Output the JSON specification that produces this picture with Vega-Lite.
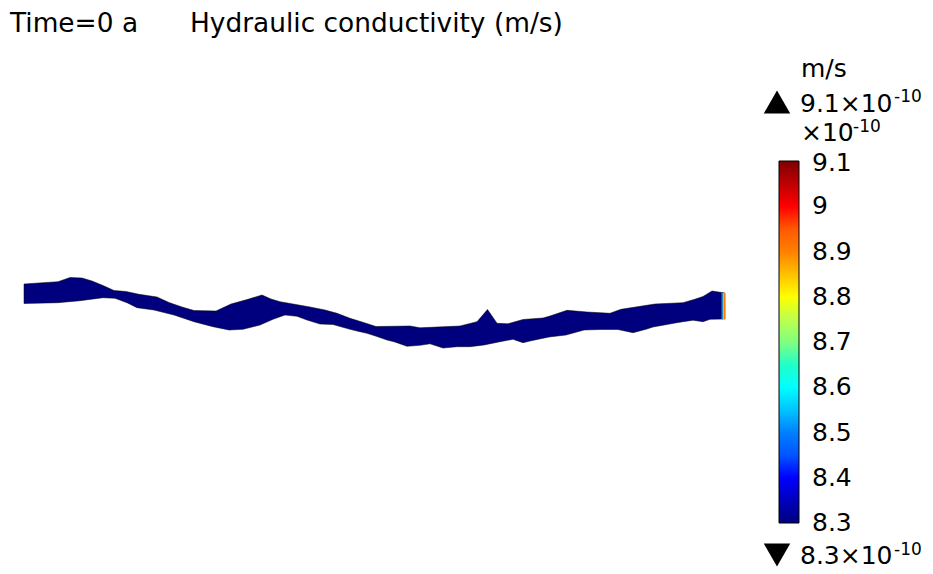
{
  "$schema": "https://vega.github.io/schema/vega-lite/v6.json",
  "width": 933,
  "height": 574,
  "autosize": {"type": "none"},
  "padding": 0,
  "background": "white",
  "config": {"view": {"stroke": null}, "font": "DejaVu Sans"},
  "datasets": {
    "outline": [
      {"i": 1, "x": 24, "y": 284, "k": 8.3},
      {"i": 2, "x": 58, "y": 281.7, "k": 8.3},
      {"i": 3, "x": 70, "y": 277.5, "k": 8.3},
      {"i": 4, "x": 82, "y": 278, "k": 8.3},
      {"i": 5, "x": 92, "y": 281, "k": 8.3},
      {"i": 6, "x": 103, "y": 285.5, "k": 8.3},
      {"i": 7, "x": 114, "y": 290.5, "k": 8.3},
      {"i": 8, "x": 126, "y": 291.5, "k": 8.3},
      {"i": 9, "x": 139, "y": 294.3, "k": 8.3},
      {"i": 10, "x": 157, "y": 297, "k": 8.3},
      {"i": 11, "x": 169, "y": 302.5, "k": 8.3},
      {"i": 12, "x": 182, "y": 307, "k": 8.3},
      {"i": 13, "x": 194, "y": 310.5, "k": 8.3},
      {"i": 14, "x": 216, "y": 311, "k": 8.3},
      {"i": 15, "x": 231, "y": 304, "k": 8.3},
      {"i": 16, "x": 248, "y": 299.3, "k": 8.3},
      {"i": 17, "x": 262, "y": 295, "k": 8.3},
      {"i": 18, "x": 271, "y": 299, "k": 8.3},
      {"i": 19, "x": 280, "y": 301.7, "k": 8.3},
      {"i": 20, "x": 293, "y": 304, "k": 8.3},
      {"i": 21, "x": 310, "y": 307, "k": 8.3},
      {"i": 22, "x": 325, "y": 310, "k": 8.3},
      {"i": 23, "x": 337, "y": 313.3, "k": 8.3},
      {"i": 24, "x": 350, "y": 318.3, "k": 8.3},
      {"i": 25, "x": 362, "y": 322, "k": 8.3},
      {"i": 26, "x": 376, "y": 326.5, "k": 8.3},
      {"i": 27, "x": 410, "y": 326, "k": 8.3},
      {"i": 28, "x": 420, "y": 327.8, "k": 8.3},
      {"i": 29, "x": 460, "y": 326, "k": 8.3},
      {"i": 30, "x": 477, "y": 321.7, "k": 8.3},
      {"i": 31, "x": 487.5, "y": 309.5, "k": 8.3},
      {"i": 32, "x": 497, "y": 323.3, "k": 8.3},
      {"i": 33, "x": 508, "y": 323.8, "k": 8.3},
      {"i": 34, "x": 523, "y": 319.5, "k": 8.3},
      {"i": 35, "x": 543, "y": 318, "k": 8.3},
      {"i": 36, "x": 550, "y": 316, "k": 8.3},
      {"i": 37, "x": 567, "y": 310.3, "k": 8.3},
      {"i": 38, "x": 587, "y": 312, "k": 8.3},
      {"i": 39, "x": 610, "y": 313.3, "k": 8.3},
      {"i": 40, "x": 621, "y": 309.3, "k": 8.3},
      {"i": 41, "x": 655, "y": 304, "k": 8.3},
      {"i": 42, "x": 683, "y": 302.7, "k": 8.3},
      {"i": 43, "x": 694, "y": 299.5, "k": 8.3},
      {"i": 44, "x": 703, "y": 296.5, "k": 8.3},
      {"i": 45, "x": 712, "y": 291, "k": 8.3},
      {"i": 46, "x": 725, "y": 293, "k": 8.3},
      {"i": 47, "x": 725, "y": 319, "k": 8.3},
      {"i": 48, "x": 710, "y": 319.3, "k": 8.3},
      {"i": 49, "x": 703, "y": 321.7, "k": 8.3},
      {"i": 50, "x": 693, "y": 320.2, "k": 8.3},
      {"i": 51, "x": 678, "y": 322.5, "k": 8.3},
      {"i": 52, "x": 653, "y": 327, "k": 8.3},
      {"i": 53, "x": 646, "y": 329.3, "k": 8.3},
      {"i": 54, "x": 633, "y": 332.7, "k": 8.3},
      {"i": 55, "x": 618, "y": 329.5, "k": 8.3},
      {"i": 56, "x": 600, "y": 329.5, "k": 8.3},
      {"i": 57, "x": 584, "y": 330, "k": 8.3},
      {"i": 58, "x": 566, "y": 335, "k": 8.3},
      {"i": 59, "x": 549, "y": 337, "k": 8.3},
      {"i": 60, "x": 530, "y": 341, "k": 8.3},
      {"i": 61, "x": 523, "y": 342.7, "k": 8.3},
      {"i": 62, "x": 513, "y": 339.3, "k": 8.3},
      {"i": 63, "x": 500, "y": 341.7, "k": 8.3},
      {"i": 64, "x": 484, "y": 345, "k": 8.3},
      {"i": 65, "x": 470, "y": 346.7, "k": 8.3},
      {"i": 66, "x": 457, "y": 346.7, "k": 8.3},
      {"i": 67, "x": 443, "y": 348, "k": 8.3},
      {"i": 68, "x": 430, "y": 343.8, "k": 8.3},
      {"i": 69, "x": 420, "y": 345.3, "k": 8.3},
      {"i": 70, "x": 407, "y": 346.3, "k": 8.3},
      {"i": 71, "x": 394, "y": 341.7, "k": 8.3},
      {"i": 72, "x": 387, "y": 340, "k": 8.3},
      {"i": 73, "x": 377, "y": 336.5, "k": 8.3},
      {"i": 74, "x": 367, "y": 333.3, "k": 8.3},
      {"i": 75, "x": 360, "y": 331.7, "k": 8.3},
      {"i": 76, "x": 350, "y": 329.3, "k": 8.3},
      {"i": 77, "x": 333, "y": 324.5, "k": 8.3},
      {"i": 78, "x": 320, "y": 324, "k": 8.3},
      {"i": 79, "x": 307, "y": 320, "k": 8.3},
      {"i": 80, "x": 297, "y": 316.3, "k": 8.3},
      {"i": 81, "x": 285, "y": 315, "k": 8.3},
      {"i": 82, "x": 273, "y": 319.3, "k": 8.3},
      {"i": 83, "x": 260, "y": 325, "k": 8.3},
      {"i": 84, "x": 243, "y": 329.3, "k": 8.3},
      {"i": 85, "x": 229, "y": 330, "k": 8.3},
      {"i": 86, "x": 213, "y": 326.7, "k": 8.3},
      {"i": 87, "x": 194, "y": 321.7, "k": 8.3},
      {"i": 88, "x": 174, "y": 315, "k": 8.3},
      {"i": 89, "x": 154, "y": 310, "k": 8.3},
      {"i": 90, "x": 137, "y": 307.7, "k": 8.3},
      {"i": 91, "x": 127, "y": 302.7, "k": 8.3},
      {"i": 92, "x": 115, "y": 298.3, "k": 8.3},
      {"i": 93, "x": 103, "y": 297.7, "k": 8.3},
      {"i": 94, "x": 80, "y": 300.7, "k": 8.3},
      {"i": 95, "x": 58, "y": 302.7, "k": 8.3},
      {"i": 96, "x": 24, "y": 303.5, "k": 8.3},
      {"i": 97, "x": 24, "y": 284, "k": 8.3}
    ],
    "edge": [
      {"x": 721.5, "x2": 722.7, "y": 292.8, "y2": 319, "k": 8.5},
      {"x": 722.7, "x2": 723.9, "y": 292.9, "y2": 319, "k": 8.7},
      {"x": 723.9, "x2": 725, "y": 293, "y2": 319, "k": 8.9}
    ],
    "ticks": [
      {"x": 779, "x2": 782, "y": 206.3}, {"x": 796, "x2": 799, "y": 206.3},
      {"x": 779, "x2": 782, "y": 251.5}, {"x": 796, "x2": 799, "y": 251.5},
      {"x": 779, "x2": 782, "y": 296.8}, {"x": 796, "x2": 799, "y": 296.8},
      {"x": 779, "x2": 782, "y": 342}, {"x": 796, "x2": 799, "y": 342},
      {"x": 779, "x2": 782, "y": 387.3}, {"x": 796, "x2": 799, "y": 387.3},
      {"x": 779, "x2": 782, "y": 432.5}, {"x": 796, "x2": 799, "y": 432.5},
      {"x": 779, "x2": 782, "y": 477.8}, {"x": 796, "x2": 799, "y": 477.8}
    ],
    "headers": [
      {"text": "Time=0 a", "x": 10, "y": 32},
      {"text": "Hydraulic conductivity (m/s)", "x": 190, "y": 32}
    ],
    "notes": [
      {"text": "m/s", "x": 801, "y": 77},
      {"text": "9.1×10", "x": 800, "y": 112},
      {"text": "×10", "x": 801, "y": 141},
      {"text": "8.3×10", "x": 800, "y": 564},
      {"text": "9.1", "x": 812, "y": 171},
      {"text": "8.3", "x": 812, "y": 531}
    ],
    "exponents": [
      {"text": "-10", "x": 894, "y": 102},
      {"text": "-10", "x": 853, "y": 131.5},
      {"text": "-10", "x": 894, "y": 555}
    ],
    "extremes": [
      {"marker": "max", "x": 777, "y": 102},
      {"marker": "min", "x": 777, "y": 555}
    ]
  },
  "layer": [
    {
      "data": {"name": "outline"},
      "mark": {"type": "line", "stroke": "#000000", "strokeWidth": 1, "strokeOpacity": 0.5, "strokeJoin": "round"},
      "encoding": {
        "x": {"field": "x", "type": "quantitative", "scale": {"domain": [0, 933], "zero": false, "nice": false}, "axis": null},
        "y": {"field": "y", "type": "quantitative", "scale": {"domain": [0, 574], "reverse": true, "zero": false, "nice": false}, "axis": null},
        "order": {"field": "i", "type": "quantitative"},
        "fill": {
          "field": "k",
          "type": "quantitative",
          "scale": {"domain": [8.3, 9.1], "range": ["#00007f", "#0000ff", "#0080ff", "#00ffff", "#80ff80", "#ffff00", "#ff8000", "#ff0000", "#7f0000"]},
          "legend": {
            "orient": "none",
            "legendX": 779,
            "legendY": 161,
            "direction": "vertical",
            "title": null,
            "padding": 0,
            "gradientLength": 362,
            "gradientThickness": 20,
            "gradientStrokeColor": "#000000",
            "gradientStrokeWidth": 1,
            "values": [8.4, 8.5, 8.6, 8.7, 8.8, 8.9, 9.0],
            "format": ".1~f",
            "labelFont": "DejaVu Sans",
            "labelFontSize": 25,
            "labelColor": "#000000",
            "labelOffset": 13,
            "labelOverlap": false
          }
        }
      }
    },
    {
      "data": {"name": "edge"},
      "mark": {"type": "rect"},
      "encoding": {
        "x": {"field": "x", "type": "quantitative"},
        "x2": {"field": "x2"},
        "y": {"field": "y", "type": "quantitative"},
        "y2": {"field": "y2"},
        "fill": {"field": "k", "type": "quantitative"}
      }
    },
    {
      "data": {"name": "ticks"},
      "mark": {"type": "rule", "color": "#000000", "strokeWidth": 1},
      "encoding": {
        "x": {"field": "x", "type": "quantitative"},
        "x2": {"field": "x2"},
        "y": {"field": "y", "type": "quantitative"}
      }
    },
    {
      "data": {"name": "extremes"},
      "mark": {"type": "point", "filled": true, "color": "#000000", "size": 700, "opacity": 1},
      "encoding": {
        "x": {"field": "x", "type": "quantitative"},
        "y": {"field": "y", "type": "quantitative"},
        "shape": {"field": "marker", "type": "nominal", "scale": {"domain": ["max", "min"], "range": ["triangle-up", "triangle-down"]}, "legend": null}
      }
    },
    {
      "data": {"name": "headers"},
      "mark": {"type": "text", "align": "left", "baseline": "alphabetic", "font": "DejaVu Sans", "fontSize": 26.4, "color": "#000000"},
      "encoding": {
        "x": {"field": "x", "type": "quantitative"},
        "y": {"field": "y", "type": "quantitative"},
        "text": {"field": "text"}
      }
    },
    {
      "data": {"name": "notes"},
      "mark": {"type": "text", "align": "left", "baseline": "alphabetic", "font": "DejaVu Sans", "fontSize": 25, "color": "#000000"},
      "encoding": {
        "x": {"field": "x", "type": "quantitative"},
        "y": {"field": "y", "type": "quantitative"},
        "text": {"field": "text"}
      }
    },
    {
      "data": {"name": "exponents"},
      "mark": {"type": "text", "align": "left", "baseline": "alphabetic", "font": "DejaVu Sans", "fontSize": 17, "color": "#000000"},
      "encoding": {
        "x": {"field": "x", "type": "quantitative"},
        "y": {"field": "y", "type": "quantitative"},
        "text": {"field": "text"}
      }
    }
  ]
}
